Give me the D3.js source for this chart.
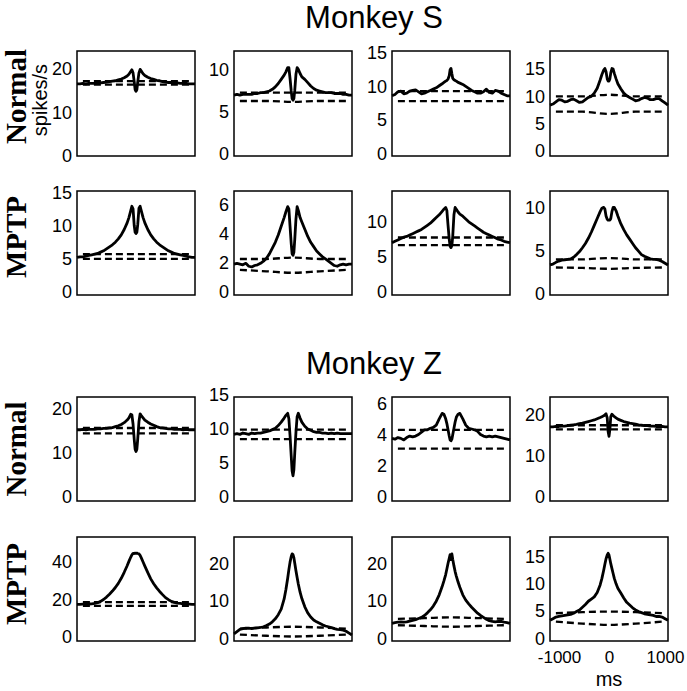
<!DOCTYPE html>
<html><head><meta charset="utf-8">
<script src="https://cdn.jsdelivr.net/npm/d3@7"></script>
<style>body{margin:0;background:#fff}svg{display:block}</style>
</head><body>
<svg id="chart" width="687" height="691"></svg>
<script>
// ---------- DATA ----------
const lags = [-1000,-950,-900,-850,-800,-750,-700,-650,-600,-550,-500,-450,-400,-350,-300,-250,-200,-150,-120,-90,-70,-50,-30,-15,0,15,30,50,70,90,120,150,200,250,300,350,400,450,500,550,600,650,700,750,800,850,900,950,1000];
const clLags = [-900,-450,0,450,900];
const xTicks = [-1000, 0, 1000];

// Monkey S, Normal
const sN1 = [16.5,16.5,16.6,16.5,16.6,16.6,16.6,16.7,16.7,16.8,16.9,17.0,17.1,17.2,17.4,17.6,17.9,18.3, 18.7,19.3,19.7,19.0,17.0,15.2, 14.8, 15.2,17.0,19.0,19.8,19.4,18.8, 18.4,18.0,17.7,17.5,17.3,17.2,17.0,16.9,16.8,16.8,16.7,16.7,16.6,16.6,16.6,16.5,16.5,16.5];
const sN2 = [7.0,7.1,7.0,7.1,7.1,7.1,7.1,7.2,7.2,7.3,7.3,7.4,7.5,7.7,8.0,8.4,8.9,9.4, 9.8,10.3,10.3,9.0,7.5,6.6, 6.4, 6.6,7.6,9.5,10.3,10.1,9.6, 9.2,8.9,8.5,8.1,7.8,7.6,7.5,7.4,7.3,7.3,7.3,7.2,7.2,7.2,7.1,7.1,7.0,7.0];
const sN3 = [8.6,8.8,9.2,9.3,8.9,9.0,9.3,9.4,9.5,9.2,8.9,9.0,9.2,9.4,9.6,9.8,10.1,10.4, 10.6,10.8,10.9,11.1,11.6,12.5, 12.7, 11.9,11.2,11.0,10.9,10.8,10.6, 10.5,10.3,10.0,9.7,9.4,9.2,9.0,9.0,9.2,9.6,9.1,9.0,9.4,9.3,9.0,8.8,8.6,8.6];
const sN4 = [8.4,8.6,9.0,9.4,9.3,9.0,9.1,9.4,9.5,9.2,8.9,9.0,9.4,9.8,10.0,10.6,11.5,13.0, 14.0,14.8,15.1,14.5,13.2,12.8, 12.8, 13.2,14.3,15.1,15.0,14.2,13.2, 12.3,11.4,10.6,10.1,9.8,9.5,9.2,9.3,9.6,9.8,9.7,9.4,9.4,9.6,9.6,9.2,8.8,8.4];
// Monkey S, MPTP
const sM1 = [5.2,5.3,5.3,5.4,5.5,5.6,5.7,5.8,6.0,6.2,6.5,6.8,7.1,7.5,8.0,8.6,9.4,10.4, 11.2,12.2,12.9,12.5,10.0,9.0, 8.8, 9.0,10.2,12.6,12.9,12.2,11.2, 10.4,9.4,8.6,8.0,7.5,7.1,6.8,6.5,6.2,6.0,5.8,5.7,5.6,5.5,5.4,5.3,5.2,5.2];
const sM2 = [1.9,1.95,1.9,1.85,1.95,1.75,1.7,1.8,1.85,1.95,2.1,2.3,2.6,3.0,3.4,3.9,4.5,5.1, 5.5,5.85,5.7,4.5,3.3,2.6, 2.5, 2.7,3.6,5.0,5.85,5.6,5.1, 4.8,4.3,3.8,3.4,3.1,2.8,2.6,2.4,2.25,2.1,1.95,1.8,1.75,1.85,1.9,1.85,1.9,1.9];
const sM3 = [7.0,7.2,7.4,7.6,7.8,7.9,8.1,8.3,8.5,8.7,8.9,9.2,9.5,9.8,10.2,10.6,11.0,11.5, 11.8,12.05,11.6,9.5,7.5,6.5, 6.3, 6.6,8.0,11.0,12.05,11.8,11.4, 11.1,10.8,10.4,10.0,9.7,9.4,9.1,8.8,8.5,8.3,8.1,7.9,7.7,7.5,7.4,7.2,7.1,7.0];
const sM4 = [3.3,3.4,3.6,3.75,3.85,3.9,3.95,4.0,4.2,4.5,4.85,5.3,5.8,6.4,7.1,7.9,8.7,9.5, 9.9,10.0,9.8,9.0,8.6,8.5, 8.5, 8.5,8.7,9.5,10.0,10.0,9.6, 9.0,8.1,7.4,6.8,6.3,5.8,5.3,4.9,4.5,4.3,4.15,4.0,3.95,3.95,3.85,3.7,3.5,3.3];
// Monkey Z, Normal
const zN1 = [15.2,15.2,15.3,15.2,15.3,15.3,15.3,15.4,15.4,15.5,15.5,15.6,15.7,15.9,16.1,16.4,16.8,17.4, 17.9,18.7,18.6,16.5,13.0,10.8, 10.3, 10.8,13.2,17.0,18.8,18.4,17.9, 17.4,16.9,16.5,16.2,15.9,15.7,15.6,15.5,15.4,15.4,15.3,15.3,15.3,15.2,15.3,15.2,15.2,15.2];
const zN2 = [9.2,9.3,9.2,9.4,9.3,9.2,9.4,9.3,9.4,9.4,9.5,9.6,9.7,9.9,10.1,10.5,11.0,11.6, 12.0,12.3,11.5,9.0,6.0,3.8, 3.1, 4.0,6.5,9.5,11.8,12.3,11.6, 11.0,10.4,10.0,9.8,9.6,9.5,9.5,9.4,9.4,9.3,9.4,9.3,9.4,9.3,9.3,9.3,9.3,9.3];
const zN3 = [3.75,3.7,3.8,3.75,3.65,3.8,3.9,3.85,3.9,4.0,4.15,4.3,4.3,4.4,4.45,4.6,5.0,5.35, 5.3,5.0,4.7,4.3,3.9,3.65, 3.6, 3.7,4.0,4.4,4.8,5.1,5.3, 5.35,5.0,4.6,4.4,4.35,4.3,4.2,4.0,3.9,3.85,3.9,3.85,3.9,3.85,3.8,3.75,3.7,3.65];
const zN4 = [17.1,17.1,17.2,17.2,17.3,17.3,17.4,17.5,17.6,17.7,17.9,18.0,18.2,18.4,18.6,18.8,19.1,19.4, 19.6,19.8,20.0,20.3,19.3,16.0, 14.8, 16.5,19.6,20.2,19.9,19.6,19.3, 19.0,18.7,18.4,18.2,18.0,17.9,17.8,17.6,17.5,17.4,17.4,17.3,17.3,17.2,17.2,17.2,17.1,17.1];
// Monkey Z, MPTP
const zM1 = [17.4,17.4,17.5,17.5,17.6,17.7,17.9,18.3,19.0,20.0,21.3,22.8,24.5,26.4,28.6,31.3,34.5,38.0, 40.3,42.5,43.8,44.6,44.5,44.7, 44.6, 44.7,44.5,44.3,43.5,42.2,40.0, 37.8,34.3,31.0,28.4,26.2,24.3,22.6,21.0,19.9,19.0,18.5,18.1,17.9,17.7,17.6,17.5,17.4,17.4];
const zM2 = [1.2,1.8,2.4,2.6,2.7,2.7,2.6,2.7,2.8,2.9,3.1,3.4,3.8,4.4,5.2,6.3,7.8,10.5, 13.0,16.0,18.3,20.3,21.8,22.5, 22.3, 21.5,20.0,18.0,16.2,14.5,12.3, 10.6,8.4,6.8,5.7,4.9,4.4,4.0,3.6,3.3,3.1,2.9,2.6,2.4,2.3,2.2,1.9,1.4,0.9];
const zM3 = [4.0,4.2,4.3,4.4,4.3,4.4,4.6,4.8,5.0,5.3,5.6,6.1,6.8,7.6,8.6,9.9,11.6,13.8, 15.3,17.0,18.5,20.0,21.3,22.3, 21.0, 22.5,21.0,19.3,17.8,16.6,15.0, 13.6,11.6,10.2,9.2,8.3,7.5,6.7,6.1,5.6,5.1,4.7,4.5,4.4,4.5,4.5,4.3,4.2,4.0];
const zM4 = [3.3,3.6,3.9,4.0,4.1,4.2,4.3,4.4,4.6,4.9,5.2,5.7,6.2,6.8,7.2,7.6,8.4,9.8, 11.0,12.5,13.6,14.6,15.3,15.6, 15.3, 14.5,13.7,12.8,11.9,11.0,10.0, 9.2,8.3,7.4,6.6,6.1,5.6,5.2,4.9,4.7,4.5,4.4,4.3,4.2,4.0,4.0,3.9,3.6,3.3];

// confidence limits (upper / lower), at clLags
const sN1_hi = [17.1,17.1,17.1,17.1,17.1], sN1_lo = [16.3,16.3,16.3,16.3,16.3];
const sN2_hi = [7.3,7.3,7.3,7.3,7.3],      sN2_lo = [6.3,6.3,6.2,6.3,6.3];
const sN3_hi = [9.3,9.3,9.3,9.3,9.3],      sN3_lo = [7.8,7.8,7.8,7.8,7.8];
const sN4_hi = [10.0,10.0,10.3,10.0,10.0], sN4_lo = [7.2,7.2,6.8,7.2,7.2];
const sM1_hi = [5.7,5.7,5.7,5.7,5.7],      sM1_lo = [5.0,5.0,5.0,5.0,5.0];
const sM2_hi = [2.25,2.25,2.35,2.25,2.25], sM2_lo = [1.5,1.4,1.3,1.4,1.5];
const sM3_hi = [7.75,7.75,7.75,7.75,7.75], sM3_lo = [6.65,6.65,6.65,6.65,6.65];
const sM4_hi = [3.95,3.95,4.1,3.95,3.95],  sM4_lo = [3.0,2.95,2.85,2.95,3.0];
const zN1_hi = [15.6,15.6,15.6,15.6,15.6], zN1_lo = [14.4,14.4,14.4,14.4,14.4];
const zN2_hi = [9.9,9.9,9.9,9.9,9.9],      zN2_lo = [8.5,8.5,8.5,8.5,8.5];
const zN3_hi = [4.3,4.3,4.3,4.3,4.3],      zN3_lo = [3.1,3.1,3.1,3.1,3.1];
const zN4_hi = [17.5,17.5,17.5,17.5,17.5], zN4_lo = [16.5,16.5,16.5,16.5,16.5];
const zM1_hi = [18.6,18.6,18.6,18.6,18.6], zM1_lo = [16.6,16.6,16.6,16.6,16.6];
const zM2_hi = [2.6,2.9,3.1,2.9,2.6],      zM2_lo = [1.0,0.7,0.5,0.7,1.0];
const zM3_hi = [5.2,5.4,5.6,5.4,5.2],      zM3_lo = [3.5,3.3,3.1,3.3,3.5];
const zM4_hi = [4.6,4.8,4.9,4.8,4.6],      zM4_lo = [3.05,2.7,2.45,2.7,3.05];

// y domains and tick labels
const yDomains = [
  [0,24], [-0.3,12.3], [-0.4,15.3], [-0.9,18.3],
  [-0.45,15.2], [-0.23,6.93], [-0.47,14.4], [-0.2,11.9],
  [-0.9,22.6], [-0.6,14.7], [-0.26,6.4], [-1,24.4],
  [-2.1,53.3], [-0.7,27], [-0.7,27], [-0.5,18.6]
];
const yTicks = [
  [0,10,20], [0,5,10], [0,5,10,15], [0,5,10,15],
  [0,5,10,15], [0,2,4,6], [0,5,10], [0,5,10],
  [0,10,20], [0,5,10,15], [0,2,4,6], [0,10,20],
  [0,20,40], [0,10,20], [0,10,20], [0,5,10,15]
];
const titles = ["Monkey S", "Monkey Z"];
const rowLabels = ["Normal", "MPTP", "Normal", "MPTP"];
const yUnit = "spikes/s";
const xUnit = "ms";

// ---------- LAYOUT ----------
const series = [sN1,sN2,sN3,sN4, sM1,sM2,sM3,sM4, zN1,zN2,zN3,zN4, zM1,zM2,zM3,zM4];
const his = [sN1_hi,sN2_hi,sN3_hi,sN4_hi, sM1_hi,sM2_hi,sM3_hi,sM4_hi, zN1_hi,zN2_hi,zN3_hi,zN4_hi, zM1_hi,zM2_hi,zM3_hi,zM4_hi];
const los = [sN1_lo,sN2_lo,sN3_lo,sN4_lo, sM1_lo,sM2_lo,sM3_lo,sM4_lo, zN1_lo,zN2_lo,zN3_lo,zN4_lo, zM1_lo,zM2_lo,zM3_lo,zM4_lo];

const colX = [77, 234, 392, 550];
const rowY = [51, 191, 397, 537];
const rowH = [105, 104, 104, 104];
const boxW = 118;
const sans = '"Liberation Sans", Arial, Helvetica, sans-serif';
const serif = '"Liberation Serif", "Times New Roman", Times, serif';

const svg = d3.select('#chart');

series.forEach((vals, i) => {
  const r = Math.floor(i / 4), c = i % 4;
  const x0 = colX[c], y0 = rowY[r], h = rowH[r];
  const x = d3.scaleLinear().domain([-1000, 1000]).range([x0, x0 + boxW]);
  const y = d3.scaleLinear().domain(yDomains[i]).range([y0 + h, y0]);
  const g = svg.append('g');

  const clLine = d3.line().x((d, k) => x(clLags[k])).y(d => y(d)).curve(d3.curveMonotoneX);
  [his[i], los[i]].forEach(arr => {
    g.append('path').attr('d', clLine(arr))
      .attr('fill', 'none').attr('stroke', '#000')
      .attr('stroke-width', 2.3).attr('stroke-dasharray', '7,4');
  });

  const line = d3.line().x((d, k) => x(lags[k])).y(d => y(d));
  g.append('path').attr('d', line(vals))
    .attr('fill', 'none').attr('stroke', '#000')
    .attr('stroke-width', 2.8).attr('stroke-linejoin', 'round');

  g.append('rect').attr('x', x0).attr('y', y0).attr('width', boxW).attr('height', h)
    .attr('fill', 'none').attr('stroke', '#000').attr('stroke-width', 1.5);

  const ax = g.append('g').attr('transform', `translate(${x0},0)`)
    .call(d3.axisLeft(y).tickValues(yTicks[i]).tickSize(0).tickPadding(5).tickFormat(d => String(d)));
  ax.select('.domain').remove();
  ax.selectAll('text').attr('font-family', sans).attr('font-size', 18).attr('fill', '#000');

  if (r === 3 && c === 3) {
    const bx = g.append('g').attr('transform', `translate(0,${y0 + h})`)
      .call(d3.axisBottom(x).tickValues(xTicks).tickSize(0).tickPadding(10).tickFormat(d => String(d)));
    bx.select('.domain').remove();
    bx.selectAll('text').attr('font-family', sans).attr('font-size', 17).attr('fill', '#000')
      .attr('dx', (d, k) => k === 0 ? 9 : (k === 2 ? -3 : 0));
    g.append('text').attr('x', x(0)).attr('y', 686).attr('text-anchor', 'middle')
      .attr('font-family', sans).attr('font-size', 20).text(xUnit);
  }
});

// titles
[0, 2].forEach((r, k) => {
  svg.append('text').attr('x', 374).attr('y', rowY[r] - 23).attr('text-anchor', 'middle')
    .attr('font-family', sans).attr('font-size', 31).text(titles[k]);
});

// row labels
const rowOff = [-7, -6, 0, -5];
rowLabels.forEach((t, r) => {
  const cy = rowY[r] + rowH[r] / 2 + rowOff[r];
  svg.append('text').attr('transform', `translate(26,${cy}) rotate(-90)`)
    .attr('text-anchor', 'middle').attr('font-family', serif).attr('font-weight', 'bold')
    .attr('font-size', 29).text(t);
});
svg.append('text').attr('transform', `translate(47,100) rotate(-90)`)
  .attr('text-anchor', 'middle').attr('font-family', sans).attr('font-size', 20).text(yUnit);
</script>
</body></html>
